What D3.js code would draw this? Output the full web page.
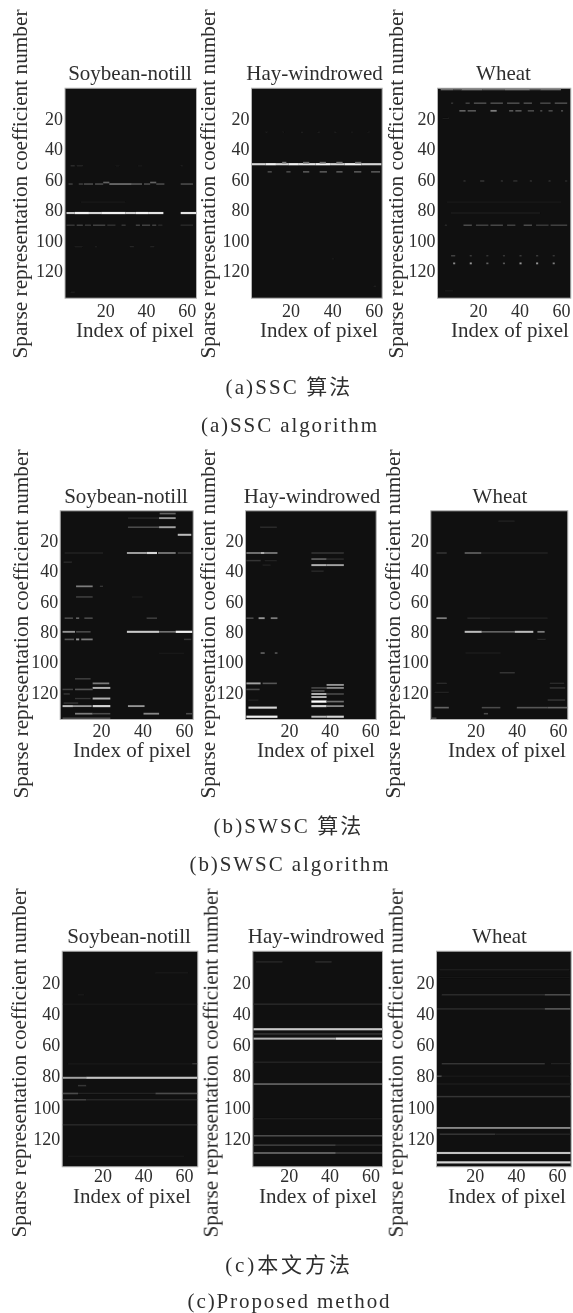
<!DOCTYPE html>
<html><head><meta charset="utf-8">
<script src="https://cdn.jsdelivr.net/npm/d3@7/dist/d3.min.js"></script>
<style>html,body{margin:0;padding:0;background:#fff}svg{display:block}</style>
</head><body><div id="c"></div>
<script>
const panelTitles = ["Soybean-notill","Hay-windrowed","Wheat"];
const xTicks = [20,40,60];
const yTicks = [20,40,60,80,100,120];
const yLabel = "Sparse representation coefficient number";
const xLabel = "Index of pixel";
const captions = [["(a)SSC 算法","(a)SSC algorithm"],["(b)SWSC 算法","(b)SWSC algorithm"],["(c)本文方法","(c)Proposed method"]];
// each entry: coefficient number, first pixel, last pixel, relative magnitude
const a1 = [[82,1,5,.8],[82,5,12,.95],[82,12,18,.85],[82,18,30,.95],[82,30,35,.85],[82,35,41,.95],[82,41,48.5,.9],[82,57,64.5,.9],
 [63,2,4,.25],[63,7,9,.25],[63,9.5,14,.3],[63,15,19,.3],[62,19,22,.4],[63,22,33,.45],[63,33,38,.35],[63,39,42,.3],[62,42,45,.4],[63,45,49,.3],[63,57,63,.3],
 [90,1,5,.2],[90,6,9,.25],[90,10,13,.2],[90,14,20,.25],[90,21,25,.18],[90,28,30,.2],[90,35,37,.25],[90,38,42,.25],[90,43,45,.25],[90,46,48,.15],[90,57,63,.15],
 [51,3,5,.15],[51,6,9,.12],[51,25,27,.06],[51,36,38,.06],[51,57,58,.08],[104,5,9,.07],[104,15,16,.08],[104,32,34,.12],[104,42,44,.1],[134,3,5,.08],[75,8,30,.05]];
const a2 = [[50,1.5,8,.85],[50,8,13,.95],[50,13,19,.85],[50,19,24,.95],[50,24,32,.9],[50,32,39,.95],[50,39,46,.85],[50,46,54,.95],[50,54,63.7,.85],
 [49,16,18,.5],[49,26,29,.45],[49,34,37,.45],[49,42,45,.5],[49,51,54,.45],
 [55,9,11,.3],[55,18,20,.3],[55,26,29,.35],[55,34,37.5,.35],[55,42,45,.35],[55,50.5,54,.35],[55,58.7,63,.35],
 [29,8,9,.08],[29,16,17,.05],[29,25,26,.08],[29,33,34,.08],[29,41,42,.08],[29,49,50,.06],[29,57,58,.06],[112,40,41,.06],[130,60,61,.1]];
const a3 = [[1,2,8,.45],[1,8,12,.35],[1,12,22,.5],[1,22,33,.4],[1,33,45,.5],[1,45,50,.35],[1,50,60,.45],
 [10,7,8,.2],[10,14,16,.25],[10,18,24,.3],[10,26,32,.3],[10,34,40,.3],[10,42,46,.3],[10,50,55,.28],[10,57,63,.3],
 [15,11,14,.4],[15,15,19,.35],[15,26,29,.5],[15,35,37,.35],[15,38,41,.35],[15,44,47,.3],[15,50,51,.3],[15,54,56,.3],[15,60,61,.3],
 [61,13,14,.18],[61,21,23,.2],[61,31,32,.18],[61,37,39,.18],[61,45,46,.18],[61,54,55,.18],[61,62,63,.15],
 [90,4,5,.15],[90,13,17,.3],[90,19,25,.25],[90,26,32,.28],[90,34,38,.25],[90,42,46,.3],[90,48,54,.22],[90,55,63,.25],
 [110,7,9,.25],[110,16,17,.22],[110,24,25,.2],[110,32,33,.2],[110,40,41,.22],[110,48,49,.22],[110,56,57,.2],
 [115,8,9,.55],[115,16,17,.6],[115,24,25,.4],[115,32,33,.35],[115,40,41,.6],[115,48,49,.6],[115,56,57,.5],
 [82,7,50,.07],[75,5,60,.06],[20,3,6,.07],[133,4,8,.08]];
const b1 = [[2,48.3,56,.4],[5,33,48,.12],[5,48,56,.6],[11,33,48,.3],[11,48,56,.65],[16,57,63.5,.75],
 [28,32.5,42,.65],[28,42,47,.85],[28,47.5,56,.5],[28,57,63.5,.25],[28,2.5,21,.12],[34,2,6,.15],
 [50,8,16,.5],[50,19.5,21,.2],[57,8,16,.25],[57,35,40,.08],[71,2.5,6.5,.3],[71,8,9.5,.4],[71,12,16,.3],[71,42,47,.25],
 [80,1.5,7.5,.6],[80,8,15,.3],[80,32.5,48,.8],[80,48,56,.45],[80,56,64,.95],[85,2.5,7,.35],[85,8,9.5,.6],[85,10.5,16,.5],[85,60,63.5,.2],
 [94,48,60,.06],[111,7.5,15,.25],[114,16,24,.5],[117,16,24.5,.7],[118,1.5,6.5,.25],[118,7.5,16,.35],[121,2,5,.2],[124,16,24.5,.7],[124,7.5,15,.2],[127,2,9,.2],
 [129,1.5,6.5,.75],[129,6.5,15.5,.6],[129,16,24.5,.85],[129,33,41,.6],[134,7.5,16,.5],[134,16,24.5,.3],[134,40.5,48,.55],[134,61,64,.3],[137,1.5,24.5,.3]];
const b2 = [[11,5.7,14,.15],[28,-1,6,.5],[28,6,8,.7],[28,8,14.3,.5],[33,-1,6,.2],[33,8,14,.1],[36,7,11,.1],
 [71,-1,2.5,.3],[71,5,8,.6],[71,11,14.3,.5],[94,6,8,.4],[94,13,14.3,.35],[114,-1,6,.65],[114,7,14,.35],[118,-1,5.5,.3],[125,0,5,.1],[130,0,14,.85],[136,-1,14.3,.95],
 [28,31,47,.2],[32,31,38.5,.4],[32,38.5,47,.15],[36,31,38.5,.7],[36,38.5,47,.65],[40,31,37,.15],
 [115,38.5,47,.6],[117,31,38.5,.3],[117,38.5,47,.55],[119,31,37.5,.35],[121,31,38.5,.7],[121,38.5,47,.3],[123,31,38.5,.7],[126,31,38.5,1],[126,38.5,47,.45],[129,31,38.5,.85],[129,38.5,47,.55],[136,31,38.5,.75],[136,38.5,47,.85]];
const b3 = [[7,31,39,.1],[28,1,6,.2],[28,14.7,22.8,.4],[28,23,39,.12],[28,39,55,.12],[71,1,6,.5],[71,16,27,.15],[71,27,55,.1],
 [80,14.7,23,.75],[80,23,39,.4],[80,39,48,.75],[80,50,53.5,.5],[85,50,54,.12],[94,15,32,.07],[107,31.7,39,.2],
 [114,1,6,.15],[114,56,63,.15],[117,56,63.5,.2],[120,0,7,.1],[125,55,63.5,.2],[130,0,7,.4],[130,23,32,.3],[130,40,55,.35],[130,55,64.5,.4],[134,24,26,.3],[137,-1.5,1,.3]];
const c1 = [[81,.5,12,.65],[81,12,66.5,.78],[86,8,12,.2],[91,.5,8,.3],[91,8,46,.1],[91,46,66.5,.3],[95,.5,12,.25],[95,12,66.5,.13],
 [111,.5,66.5,.13],[72,3,64,.05],[72,64,66.5,.2],[131,3,60,.05],[14,46,62,.05],[34,.5,66.5,.04],[28,8,11,.05]];
const c2 = [[7,4,17,.12],[7,33,41,.15],[34,2.7,65.6,.15],[50,2.7,65.6,.8],[53,2.7,65.6,.2],[56,2.7,43,.7],[56,43,65.6,.9],[71,2.7,65.6,.12],[85,2.7,65.6,.4],
 [107,2.7,65.6,.08],[118,2.7,65.6,.3],[124,2.7,43,.25],[124,43,65.6,.12],[129,2.7,43,.42],[129,43,65.6,.25]];
const c3 = [[12,3,66,.07],[17,3,66,.05],[28,4,54,.15],[28,54,66.6,.3],[37,1.7,54,.15],[37,54,66.6,.35],[72,4,54,.2],[72,57,66.6,.1],[80,1.7,4,.3],[80,4,66,.05],
 [85,1.7,66.6,.08],[93,1.7,66.6,.2],[113,1.7,66.6,.55],[117,3,30,.2],[117,30,66.6,.12],[129,1.7,66.6,.78],[135,1.7,66.6,.85]];
const panelData = [[a1,a2,a3],[b1,b2,b3],[c1,c2,c3]];

const W=573,H=1313;
const layout = [
 {top:88.7,bottom:297.7,titleY:80,tickY:316.7,labelY:336.7,capY:[394,431.7],capX:[289,290],
  p:[{l:65.5,r:196,dom:[.5,64.5],tx:130,ax:135,yl:20,lc:184},{l:252,r:381.7,dom:[1.5,63.8],tx:314.5,ax:319,yl:208,lc:184},{l:438,r:570.3,dom:[.7,64.5],tx:503.5,ax:510,yl:396,lc:184}]},
 {top:511.3,bottom:719,titleY:503,tickY:737,labelY:757,capY:[833.3,871],capX:[288.5,290],
  p:[{l:60.7,r:192.7,dom:[.6,64.2],tx:126,ax:132,yl:20.7,lc:624},{l:246,r:375.7,dom:[-1.2,62.7],tx:312,ax:316,yl:208,lc:624},{l:431.3,r:567.3,dom:[-1.5,64.5],tx:500,ax:507,yl:393,lc:624}]},
 {top:951.7,bottom:1166.3,titleY:942.7,tickY:1182,labelY:1203,capY:[1272,1308],capX:[289,289.5],
  p:[{l:62.7,r:197.3,dom:[.5,66.5],tx:129,ax:132,yl:19.3,lc:1063},{l:253.3,r:382,dom:[2.7,65.6],tx:316,ax:318,yl:210.7,lc:1063},{l:437,r:570.7,dom:[1.7,66.6],tx:499.5,ax:507,yl:395.7,lc:1063}]}
];
const ink="#2e2e2e", serif="'Liberation Serif','Times New Roman',serif";
const color = d3.scalePow().exponent(1.15).domain([0,1]).range(["#101010","#ffffff"]);
const thick = d3.scaleLinear().domain([0,1]).range([.8,1.5]);
const svg = d3.select("#c").append("svg").attr("width",W).attr("height",H).attr("viewBox",`0 0 ${W} ${H}`);
const defs = svg.append("defs");
defs.append("filter").attr("id","b1").attr("filterUnits","userSpaceOnUse").attr("x",0).attr("y",0).attr("width",W).attr("height",H).append("feGaussianBlur").attr("stdDeviation",.55);
defs.append("filter").attr("id","b2").attr("filterUnits","userSpaceOnUse").attr("x",0).attr("y",0).attr("width",W).attr("height",H).append("feGaussianBlur").attr("stdDeviation",.35);
const textLayer = svg.append("g").attr("filter","url(#b2)").attr("font-family",serif).attr("fill",ink);

layout.forEach((row,ri)=>{
 row.p.forEach((p,pi)=>{
  const x=d3.scaleLinear().domain(p.dom).range([p.l,p.r]);
  const y=d3.scaleLinear().domain([.5,137.5]).range([row.top,row.bottom]);
  svg.append("rect").attr("x",p.l-.5).attr("y",row.top-.5).attr("width",p.r-p.l+1).attr("height",row.bottom-row.top+1).attr("fill",color(0)).attr("stroke","#b5b5b5").attr("stroke-width",1);
  const clipId=`cp${ri}${pi}`;
  defs.append("clipPath").attr("id",clipId).append("rect").attr("x",p.l).attr("y",row.top).attr("width",p.r-p.l).attr("height",row.bottom-row.top);
  svg.append("g").attr("clip-path",`url(#${clipId})`).append("g").attr("filter","url(#b1)")
   .selectAll("rect").data(panelData[ri][pi]).join("rect")
   .attr("x",d=>x(d[1])).attr("width",d=>x(d[2])-x(d[1]))
   .attr("y",d=>y(d[0]-thick(d[3])/2)).attr("height",d=>y(thick(d[3]))-y(0))
   .attr("fill",d=>color(d[3]));
  const xa=d3.axisBottom(x).tickValues(xTicks).tickSize(0).tickPadding(0);
  textLayer.append("g").attr("transform",`translate(0,${row.tickY-16})`).call(xa)
   .call(g=>g.select(".domain").remove())
   .selectAll("text").attr("font-size",18).attr("font-family",serif).attr("fill",ink).attr("y",16).attr("dy",0);
  const ya=d3.axisLeft(y).tickValues(yTicks).tickSize(0).tickPadding(2.5);
  textLayer.append("g").attr("transform",`translate(${p.l},0)`).call(ya)
   .call(g=>g.select(".domain").remove())
   .selectAll("text").attr("font-size",18).attr("font-family",serif).attr("fill",ink);
  textLayer.append("text").attr("x",p.tx).attr("y",row.titleY).attr("text-anchor","middle").attr("font-size",21).text(panelTitles[pi]);
  textLayer.append("text").attr("x",p.ax).attr("y",row.labelY).attr("text-anchor","middle").attr("font-size",21).text(xLabel);
  textLayer.append("text").attr("transform",`translate(${p.yl+7},${p.lc}) rotate(-90)`).attr("text-anchor","middle").attr("font-size",21.3).text(yLabel);
 });
 captions[ri].forEach((t,i)=>{
  textLayer.append("text").attr("x",row.capX[i]).attr("y",row.capY[i]).attr("text-anchor","middle")
   .attr("font-size",21).attr("letter-spacing",i===0?(ri===2?2.9:2.1):1.9).attr("font-family",serif+",'Noto Sans CJK SC'").text(t);
 });
});
</script></body></html>
